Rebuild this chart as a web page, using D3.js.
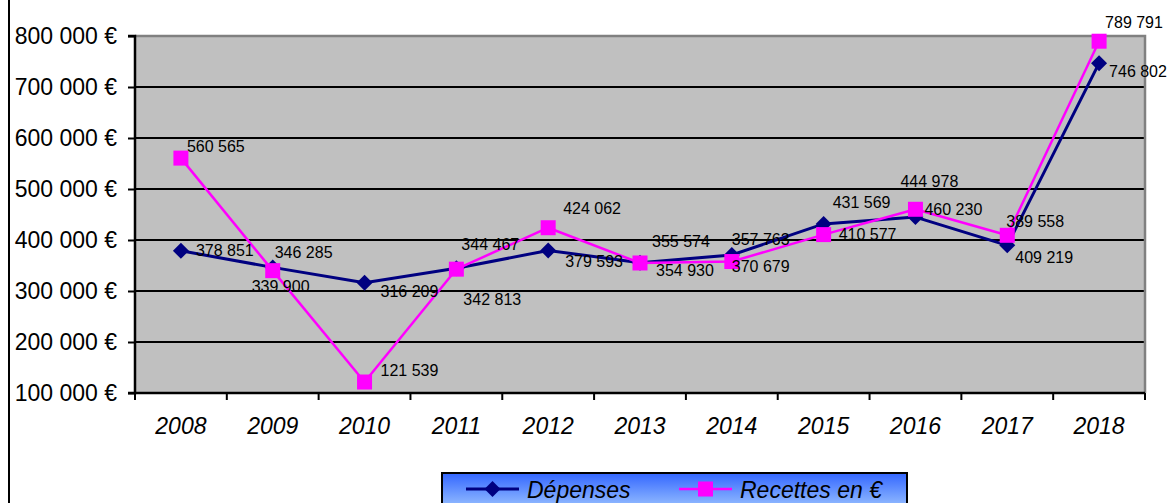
<!DOCTYPE html>
<html>
<head>
<meta charset="utf-8">
<script src="https://cdn.jsdelivr.net/npm/d3@7/dist/d3.min.js"></script>
<style>
  html, body { margin: 0; padding: 0; background: #fff; }
  svg { display: block; font-family: "Liberation Sans", Arial, sans-serif; }
</style>
</head>
<body>
<svg id="chart" width="1168" height="503"></svg>
<script>
// Annual figures, in euros
const years = ["2008", "2009", "2010", "2011", "2012", "2013", "2014", "2015", "2016", "2017", "2018"];
const depenses = [378851, 346285, 316209, 344467, 379593, 355574, 370679, 431569, 444978, 389558, 746802];
const recettes = [560565, 339900, 121539, 342813, 424062, 354930, 357763, 410577, 460230, 409219, 789791];
const yTicks = [100000, 200000, 300000, 400000, 500000, 600000, 700000, 800000];
const seriesNames = ["Dépenses", "Recettes en €"];

// Hand-placed data label offsets (dx to text start, dy to text middle) per point
const depLabelOffset = [[15, 0], [2, -15], [16, 9], [5, -24], [17, 11], [12, -21], [0, 12], [9, -21], [-15, -36], [-1, -24], [10, 8]];
const recLabelOffset = [[6, -12], [-21, 16], [16, -12], [7, 30], [15, -19], [16, 8], [0, -22], [15, 0], [9, 0], [8, 22], [6, -19]];

const svg = d3.select("#chart");
const W = 1168, H = 503;
const plot = { left: 135, right: 1145, top: 36, bottom: 393 };

const fr = d3.formatLocale({ decimal: ",", thousands: "\u00a0", grouping: [3], currency: ["", "\u00a0€"] });
const fmtNum = fr.format(",d");
const fmtEur = v => fmtNum(v) + "\u00a0€";

const x = d3.scaleBand().domain(years).range([plot.left, plot.right]).padding(0);
const y = d3.scaleLinear().domain([100000, 800000]).range([plot.bottom, plot.top]);
const cx = d => x(d) + x.bandwidth() / 2;

// Chart-area left border
svg.append("line").attr("x1", 9).attr("x2", 9).attr("y1", 0).attr("y2", H)
  .attr("stroke", "#000").attr("stroke-width", 2);

// Plot background
svg.append("rect")
  .attr("x", plot.left).attr("y", plot.top)
  .attr("width", plot.right - plot.left).attr("height", plot.bottom - plot.top)
  .attr("fill", "#c0c0c0");

// Horizontal gridlines
svg.append("g").selectAll("line")
  .data(yTicks.filter(t => t > 100000 && t < 800000))
  .join("line")
  .attr("x1", plot.left).attr("x2", plot.right)
  .attr("y1", d => y(d)).attr("y2", d => y(d))
  .attr("stroke", "#000").attr("stroke-width", 2);

// Plot border (top and right)
svg.append("path")
  .attr("d", `M${plot.left},${plot.top}H${plot.right}V${plot.bottom}`)
  .attr("fill", "none").attr("stroke", "#808080").attr("stroke-width", 2.5);

// Y axis
const yAxis = d3.axisLeft(y).tickValues(yTicks).tickSize(7).tickPadding(11).tickFormat(fmtEur);
const gy = svg.append("g").attr("transform", `translate(${plot.left},0)`).call(yAxis);
gy.select(".domain").attr("stroke", "#000").attr("stroke-width", 2.5).attr("d", `M-7,${plot.top}H0V${plot.bottom}H-7`);
gy.selectAll(".tick line").attr("stroke", "#000").attr("stroke-width", 2);
gy.selectAll(".tick text").attr("fill", "#000").style("font-size", "23px")
  .style("font-family", "'Liberation Sans', Arial, sans-serif");

// X axis (ticks between categories)
svg.append("line").attr("x1", plot.left).attr("x2", plot.right)
  .attr("y1", plot.bottom).attr("y2", plot.bottom)
  .attr("stroke", "#000").attr("stroke-width", 2.5);
const bounds = years.map(d => x(d)).concat([plot.right]);
svg.append("g").selectAll("line").data(bounds).join("line")
  .attr("x1", d => d).attr("x2", d => d)
  .attr("y1", plot.bottom).attr("y2", plot.bottom + 7)
  .attr("stroke", "#000").attr("stroke-width", 2);
svg.append("g").selectAll("text").data(years).join("text")
  .attr("x", d => cx(d)).attr("y", 426)
  .attr("text-anchor", "middle").attr("dominant-baseline", "central")
  .style("font-size", "23px").style("font-style", "italic")
  .text(d => d);

// Markers
const diamondPath = r => `M0,${-r}L${r},0L0,${r}L${-r},0Z`;
const squarePath = s => `M${-s},${-s}H${s}V${s}H${-s}Z`;

const series = [
  { name: seriesNames[0], values: depenses, color: "#000080", width: 3, marker: diamondPath(8), offs: depLabelOffset },
  { name: seriesNames[1], values: recettes, color: "#ff00ff", width: 2.5, marker: squarePath(7.5), offs: recLabelOffset }
];

const line = d3.line().x(d => cx(d.year)).y(d => y(d.value));

series.forEach(s => {
  const pts = years.map((yr, i) => ({ year: yr, value: s.values[i], off: s.offs[i] }));
  svg.append("path").datum(pts)
    .attr("d", line).attr("fill", "none")
    .attr("stroke", s.color).attr("stroke-width", s.width).attr("stroke-linejoin", "round");
  svg.append("g").selectAll("path").data(pts).join("path")
    .attr("transform", d => `translate(${cx(d.year)},${y(d.value)})`)
    .attr("d", s.marker).attr("fill", s.color);
  s.pts = pts;
});

// Data labels
series.forEach(s => {
  svg.append("g").selectAll("text").data(s.pts).join("text")
    .attr("x", d => cx(d.year) + d.off[0])
    .attr("y", d => y(d.value) + d.off[1])
    .attr("dominant-baseline", "central")
    .style("font-size", "16px").attr("fill", "#000")
    .text(d => fmtNum(d.value));
});

// Legend
const defs = svg.append("defs");
const grad = defs.append("linearGradient").attr("id", "legendFill")
  .attr("x1", 0).attr("y1", 0).attr("x2", 0).attr("y2", 1);
grad.append("stop").attr("offset", "0%").attr("stop-color", "#3366ff");
grad.append("stop").attr("offset", "100%").attr("stop-color", "#a6cdff");

const lg = svg.append("g");
lg.append("rect").attr("x", 442).attr("y", 473).attr("width", 465).attr("height", 40)
  .attr("fill", "url(#legendFill)").attr("stroke", "#000").attr("stroke-width", 2);

const legendItems = [
  { s: series[0], x0: 466 },
  { s: series[1], x0: 679 }
];
legendItems.forEach(it => {
  const ly = 489;
  lg.append("line").attr("x1", it.x0).attr("x2", it.x0 + 53).attr("y1", ly).attr("y2", ly)
    .attr("stroke", it.s.color).attr("stroke-width", it.s.width);
  lg.append("path").attr("transform", `translate(${it.x0 + 26.5},${ly})`)
    .attr("d", it.s.marker).attr("fill", it.s.color);
  lg.append("text").attr("x", it.x0 + 61).attr("y", ly + 1)
    .attr("dominant-baseline", "central")
    .style("font-size", "23px").style("font-style", "italic")
    .text(it.s.name);
});
</script>
</body>
</html>
